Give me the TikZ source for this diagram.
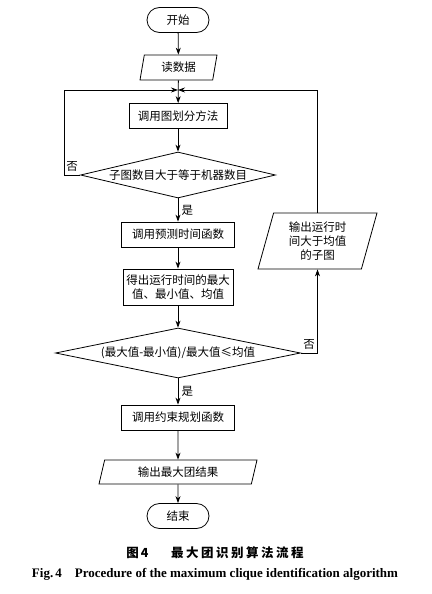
\documentclass[tikz,border=0pt]{standalone}
\usepackage{fontspec}
\setmainfont{Liberation Serif}
\newfontfamily\cjk{Noto Sans CJK SC}
\newfontfamily\cjkcap[LetterSpace=20]{Noto Sans CJK SC}
\usetikzlibrary{arrows.meta,shapes.geometric,shapes.misc}

\begin{document}
\begin{tikzpicture}[>={Stealth[length=7pt,width=5pt]}, x=1pt, y=-1pt, line width=0.8pt,
  font=\cjk\fontsize{11.5}{14}\selectfont,
  terminal/.style={draw, rounded rectangle, minimum width=62, minimum height=25, inner sep=0},
  process/.style={draw, rectangle, minimum height=25, inner sep=0, align=center},
  decision/.style={draw, diamond, inner sep=0},
  io/.style={draw, trapezium, trapezium left angle=68, trapezium right angle=112,
    trapezium stretches body, inner sep=0, align=center}]
\useasboundingbox (0,0) rectangle (431,594);
\node[terminal] (start) at (178,20) {开始};
\node[io, minimum width=77, minimum height=25] (read) at (178.5,67.5) {读数据};
\coordinate (merge) at (178,90);
\node[process, minimum width=98] (part) at (178,116) {调用图划分方法};
\node[decision, aspect=4.24, minimum width=195, minimum height=46] (cmp) at (178,175) {子图数目大于等于机器数目};
\node[process, minimum width=113] (pred) at (178,234.5) {调用预测时间函数};
\node[process, minimum width=110, minimum height=36] (stat) at (178,287) {得出运行时间的最大\\值、最小值、均值};
\node[decision, aspect=4.9, minimum width=245, minimum height=50] (bal) at (178,353) {(最大值-最小值)/最大值≤均值};
\node[io, minimum width=119, minimum height=56] (outsub) at (317.5,241) {输出运行时\\间大于均值\\的子图};
\node[process, minimum width=113] (plan) at (178,417.5) {调用约束规划函数};
\node[io, trapezium left angle=62, trapezium right angle=118, minimum width=158, minimum height=24] (outres) at (178,472) {输出最大团结果};
\node[terminal] (end) at (178,516) {结束};
% captions
\node[font=\cjkcap\bfseries\fontsize{12.5}{14}\selectfont] (capzh) at (215,553) {图\,4\hspace{1.8em}最大团识别算法流程};
\node[font=\bfseries\fontsize{13}{15}\selectfont] (capen) at (215,574) {Fig.\,4\hspace{1em}Procedure of the maximum clique identification algorithm};
% connectors
\draw[->] (start) -- (read);
\draw[->] (read) -- (part);
\draw[->] (part) -- (cmp);
\draw[->] (cmp.west) -- node[above]{否} ++(-16,0) |- (merge);
\draw[->] (cmp) -- node[right]{是} (pred);
\draw[->] (pred) -- (stat);
\draw[->] (stat) -- (bal);
\draw[->] (bal.east) -| node[above, pos=0.25]{否} (outsub.south);
\draw[->] (outsub.north) |- (merge);
\draw[->] (bal) -- node[right]{是} (plan);
\draw[->] (plan) -- (outres);
\draw[->] (outres) -- (end);
\end{tikzpicture}
\end{document}
